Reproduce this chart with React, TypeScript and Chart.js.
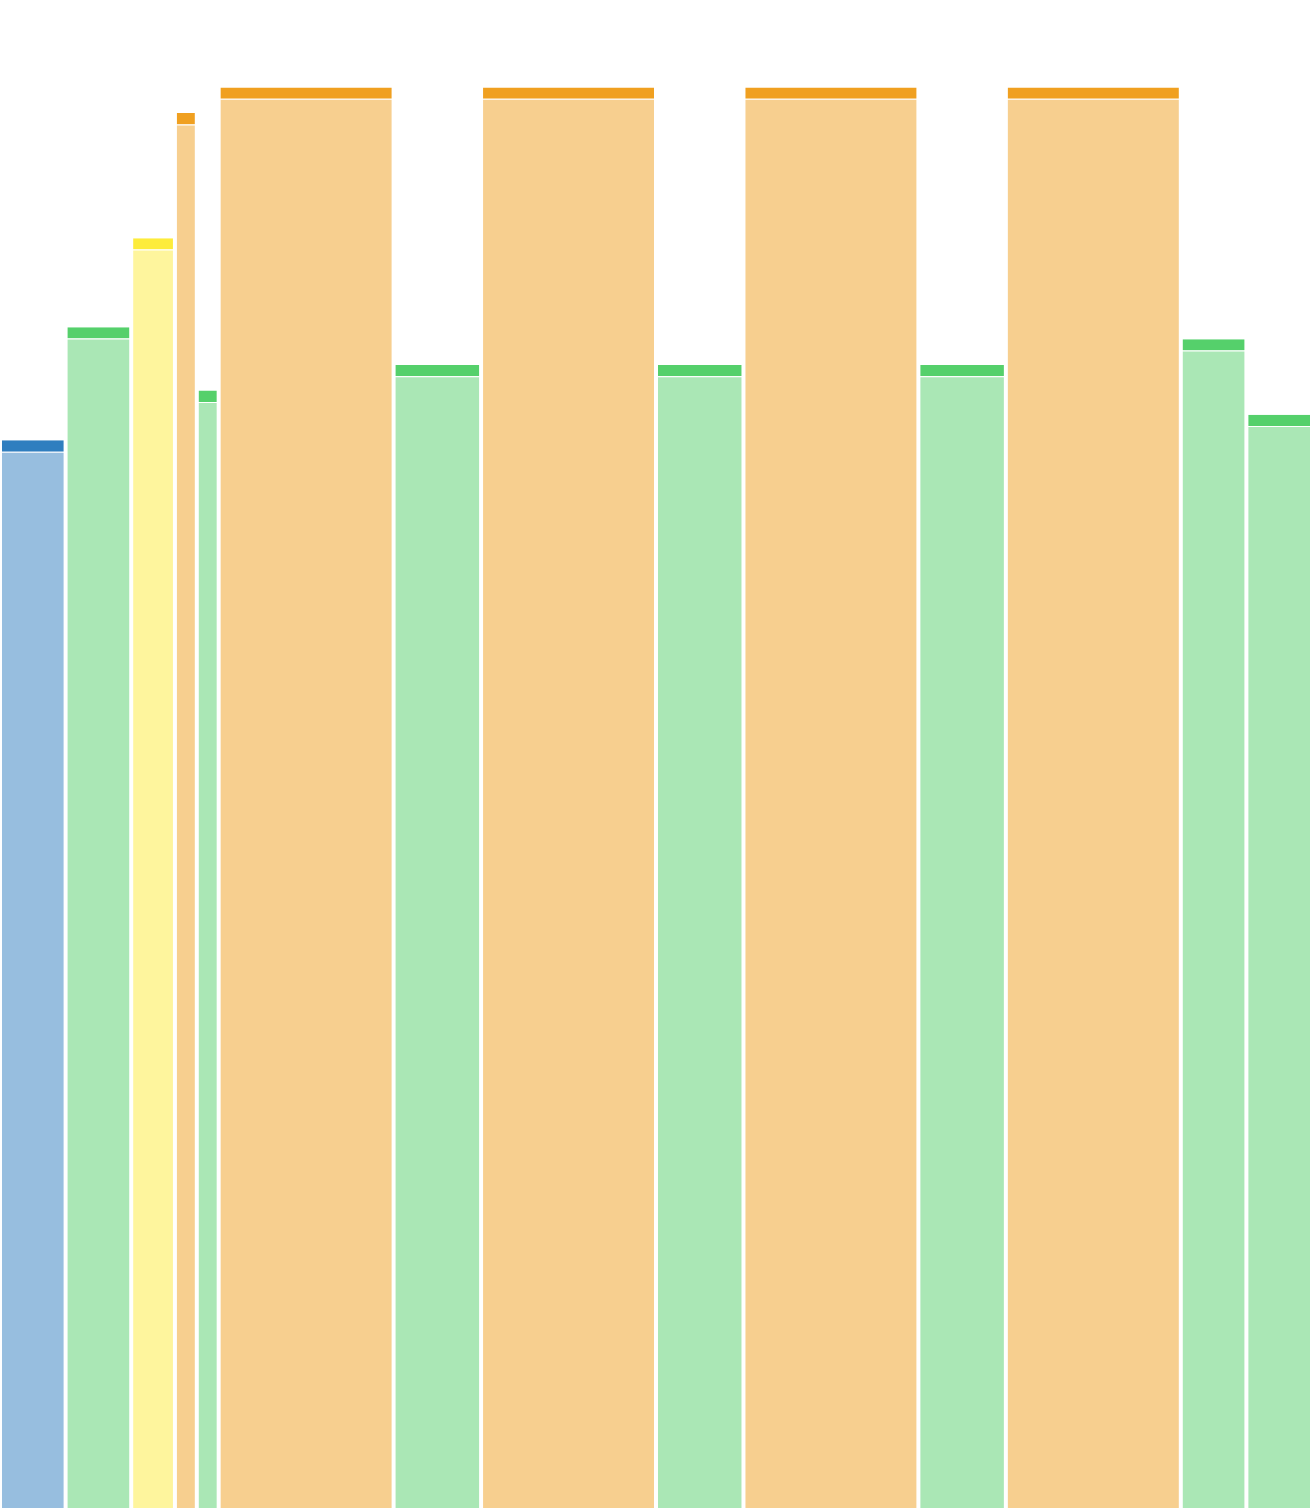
import React, { useEffect, useRef } from "react";
import { Chart, registerables } from "chart.js";

Chart.register(...registerables);

// one entry per bar, left to right
const categories = ["A", "B", "C", "D", "E", "F", "G", "H", "I", "J", "K", "L", "M", "N"];
const groups = ["blue", "green", "yellow", "orange", "green", "orange", "green", "orange", "green", "orange", "green", "orange", "green", "green"];
const widths = [3, 3, 2, 1, 1, 8, 4, 8, 4, 8, 4, 8, 3, 3];
const values = [70.8, 78.3, 84.2, 92.5, 74.1, 94.2, 75.8, 94.2, 75.8, 94.2, 75.8, 94.2, 77.5, 72.5];

const CAP = 0.75;

const capColors: Record<string, string> = {
  blue: "#2f7ebf",
  green: "#55d06b",
  yellow: "#fdec3b",
  orange: "#f0a020",
};
const fillColors: Record<string, string> = {
  blue: "rgba(47,126,191,0.5)",
  green: "rgba(85,208,107,0.5)",
  yellow: "rgba(253,236,59,0.5)",
  orange: "rgba(240,160,32,0.5)",
};

const starts: number[] = [];
widths.reduce((acc, w) => {
  starts.push(acc);
  return acc + w;
}, 0);
const total = widths.reduce((a, b) => a + b, 0);

// stretch every bar over its own slot of the x scale
const variableWidth = {
  id: "variableWidth",
  afterDatasetsUpdate(chart: any) {
    const xs = chart.scales.x;
    chart.data.datasets.forEach((_: any, di: number) => {
      const meta = chart.getDatasetMeta(di);
      meta.data.forEach((el: any, i: number) => {
        const left = xs.getPixelForValue(starts[i]);
        const right = xs.getPixelForValue(starts[i] + widths[i]);
        el.x = (left + right) / 2;
        el.width = right - left;
      });
    });
  },
};

const App: React.FC = () => {
  const chartRef = useRef<HTMLCanvasElement | null>(null);

  useEffect(() => {
    if (!chartRef.current) return;
    const centers = starts.map((s, i) => s + widths[i] / 2);

    const chart = new Chart(chartRef.current, {
      type: "bar",
      data: {
        labels: categories,
        datasets: [
          {
            label: "value",
            data: values.map((v, i) => ({ x: centers[i], y: v - CAP })),
            backgroundColor: groups.map((g) => fillColors[g]),
            borderColor: "#ffffff",
            borderWidth: { left: 2, right: 2, top: 1, bottom: 0 },
            borderSkipped: false,
            stack: "s",
          },
          {
            label: "cap",
            data: values.map((_, i) => ({ x: centers[i], y: CAP })),
            backgroundColor: groups.map((g) => capColors[g]),
            borderColor: "#ffffff",
            borderWidth: { left: 2, right: 2, top: 0, bottom: 0 },
            borderSkipped: false,
            stack: "s",
          },
        ],
      },
      options: {
        responsive: true,
        maintainAspectRatio: false,
        animation: false,
        layout: { padding: 0 },
        plugins: {
          legend: { display: false },
          tooltip: { enabled: false },
        },
        scales: {
          x: { type: "linear", min: 0, max: total, offset: false, display: false, stacked: true },
          y: { min: 0, max: 100, display: false, stacked: true },
        },
      },
      plugins: [variableWidth],
    });

    return () => {
      chart.destroy();
    };
  }, []);

  return (
    <div style={{ position: "absolute", left: 0, top: 0, width: "1312px", height: "1508px" }}>
      <canvas ref={chartRef} />
    </div>
  );
};

export default App;
